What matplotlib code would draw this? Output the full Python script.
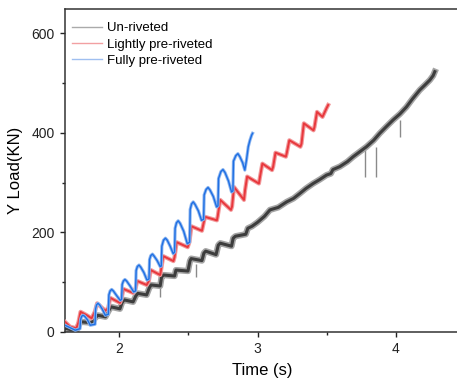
import matplotlib
matplotlib.use("Agg")
import matplotlib.pyplot as plt
from matplotlib.lines import Line2D
from matplotlib.ticker import MultipleLocator

plt.rcParams['font.family'] = ['Liberation Sans', 'DejaVu Sans']

# ---- data ----
labels = ["Un-riveted", "Lightly pre-riveted", "Fully pre-riveted"]

blue_x = [1.607, 1.645, 1.682,
          1.716, 1.720, 1.728, 1.738, 1.750, 1.770, 1.790,
          1.825, 1.829, 1.836, 1.846, 1.858, 1.878, 1.899,
          1.921, 1.925, 1.934, 1.945, 1.957, 1.980, 2.007,
          2.017, 2.021, 2.030, 2.041, 2.053, 2.078, 2.104,
          2.118, 2.122, 2.131, 2.143, 2.155, 2.178, 2.200,
          2.215, 2.219, 2.228, 2.240, 2.252, 2.274, 2.296,
          2.304, 2.308, 2.320, 2.334, 2.347, 2.368, 2.390,
          2.400, 2.404, 2.414, 2.426, 2.440, 2.466, 2.492,
          2.509, 2.513, 2.523, 2.535, 2.548, 2.572, 2.595,
          2.610, 2.614, 2.628, 2.642, 2.656, 2.680, 2.704,
          2.714, 2.718, 2.735, 2.750, 2.765, 2.790, 2.812,
          2.822, 2.826, 2.843, 2.858, 2.872, 2.892, 2.908,
          2.920, 2.933, 2.945, 2.957, 2.964]
blue_y = [13, 8, 3,
          6, 24, 31, 33, 31, 24, 13,
          15, 46, 54, 57, 54, 45, 33,
          35, 74, 82, 85, 82, 73, 63,
          65, 95, 102, 105, 102, 92, 80,
          82, 123, 131, 134, 130, 119, 104,
          106, 145, 153, 156, 152, 143, 131,
          132, 172, 184, 188, 184, 172, 157,
          160, 208, 219, 223, 218, 202, 177,
          180, 246, 257, 261, 256, 243, 224,
          226, 275, 286, 290, 285, 272, 251,
          253, 308, 322, 326, 320, 303, 281,
          283, 343, 354, 358, 352, 340, 325,
          345, 372, 385, 395, 399]

red_x = [1.607, 1.645, 1.690, 1.704, 1.720, 1.760, 1.800,
         1.823, 1.840, 1.900,
         1.920, 1.935, 2.005,
         2.016, 2.030, 2.100,
         2.117, 2.130, 2.198,
         2.214, 2.228, 2.296,
         2.303, 2.318, 2.392,
         2.400, 2.415, 2.495,
         2.507, 2.522, 2.598,
         2.605, 2.620, 2.706,
         2.712, 2.730, 2.808,
         2.816, 2.830, 2.902,
         2.910, 2.925, 3.010,
         3.017, 3.035, 3.105,
         3.113, 3.130, 3.205,
         3.212, 3.230, 3.310,
         3.318, 3.335, 3.405,
         3.412, 3.430, 3.470, 3.500, 3.511]
red_y = [20, 10, 7, 18, 40, 34, 27,
         40, 57, 42,
         48, 68, 58,
         66, 86, 78,
         86, 102, 94,
         102, 124, 114,
         125, 152, 142,
         150, 180, 170,
         180, 212, 203,
         212, 231, 224,
         232, 265, 245,
         252, 291, 265,
         285, 312, 298,
         310, 338, 325,
         332, 360, 352,
         360, 385, 372,
         378, 419, 405,
         412, 442, 432, 450, 456]

black_x = [1.607, 1.650, 1.690, 1.706, 1.720, 1.800, 1.827, 1.845, 1.900,
           1.923, 1.940, 2.005, 2.019, 2.035, 2.100, 2.120, 2.135, 2.198,
           2.217, 2.230, 2.296, 2.306, 2.320, 2.400, 2.410, 2.497, 2.511,
           2.520, 2.598, 2.612, 2.625, 2.700, 2.716, 2.730, 2.812, 2.824,
           2.840, 2.915, 2.930, 2.960, 3.000, 3.050, 3.090, 3.150, 3.210,
           3.260, 3.306, 3.350, 3.402, 3.450, 3.499, 3.530, 3.545, 3.595,
           3.650, 3.692, 3.740, 3.788, 3.840, 3.884, 3.930, 3.981, 4.030,
           4.077, 4.120, 4.173, 4.210, 4.246, 4.270, 4.282]
black_y = [7, 4, 3, 12, 20, 18, 28, 33, 30,
           42, 50, 46, 58, 64, 60, 72, 77, 74,
           88, 94, 92, 110, 114, 112, 124, 122, 142,
           147, 143, 158, 162, 155, 174, 178, 172, 188,
           192, 196, 208, 212, 220, 232, 245, 250, 261,
           268, 278, 288, 298, 306, 315, 318, 326, 332,
           342, 352, 362, 372, 385, 399, 412, 426, 438,
           452, 468, 486, 496, 506, 515, 523]

# downward spikes in the un-riveted trace
spike_x = [2.294, 2.554, 3.776, 3.855, 4.029]
spike_top = [90, 137, 365, 372, 426]
spike_bottom = [70, 110, 312, 312, 392]

x_ticks = [2, 3, 4]
y_ticks = [0, 200, 400, 600]

# ---- figure ----
fig = plt.figure(figsize=(4.57, 3.81), dpi=100)
ax = fig.add_axes([64.5 / 457, 1 - 331.7 / 381, (459 - 64.5) / 457, (331.7 - 9) / 381])

col_black, col_red, col_blue = "#3d3d3d", "#e8383d", "#1f6fe3"
fr_black, fr_red, fr_blue = "#a5a5a5", "#f29a9c", "#8db6f0"

ax.vlines(spike_x, spike_bottom, spike_top, color="#8a8a8a", lw=1.0, zorder=1)
ax.plot(black_x, black_y, color=fr_black, lw=4.5, zorder=1)
ax.plot(black_x, black_y, color=col_black, lw=2.2, zorder=2)
ax.plot(red_x, red_y, color=fr_red, lw=3.0, zorder=3)
ax.plot(red_x, red_y, color=col_red, lw=1.4, zorder=4)
ax.plot(blue_x, blue_y, color=fr_blue, lw=2.3, zorder=5)
ax.plot(blue_x, blue_y, color=col_blue, lw=1.0, zorder=6)

ax.set_xlim(1.604, 4.457)
ax.set_ylim(0, 649)
ax.set_xticks(x_ticks)
ax.set_yticks(y_ticks)
ax.xaxis.set_minor_locator(MultipleLocator(0.5))
ax.yaxis.set_minor_locator(MultipleLocator(100))
ax.tick_params(which="major", direction="out", length=3.6, width=1.0,
               labelsize=10, pad=3.5, colors="#222222")
ax.tick_params(which="minor", direction="out", length=2.2, width=1.0, colors="#222222")
ax.tick_params(axis="x", which="both", top=False)
ax.tick_params(axis="y", which="both", right=False)
for s in ax.spines.values():
    s.set_linewidth(1.1)
    s.set_color("#333333")

ax.set_xlabel("Time (s)", fontsize=12, labelpad=5)
ax.set_ylabel("Y Load(KN)", fontsize=12, labelpad=6)

handles = [Line2D([], [], color="#aaaaaa", lw=1.0),
           Line2D([], [], color="#f2a0a2", lw=1.0),
           Line2D([], [], color="#9fbff0", lw=1.0)]
ax.legend(handles, labels, loc="upper left", bbox_to_anchor=(0.019, 0.960),
          frameon=False, fontsize=9.5, handlelength=2.3, handletextpad=0.35,
          labelspacing=0.32, borderpad=0, borderaxespad=0)

fig.savefig("out.png", dpi=100)
